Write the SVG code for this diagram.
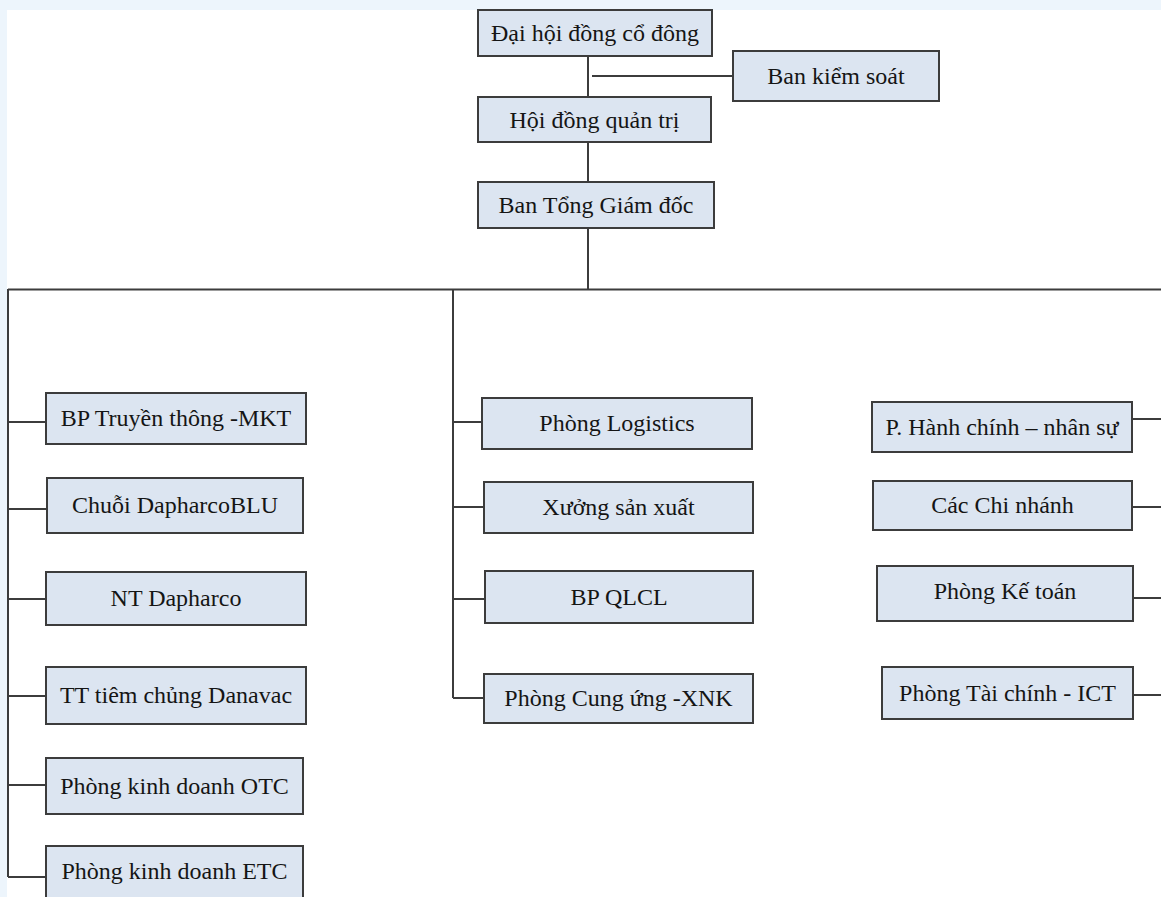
<svg xmlns="http://www.w3.org/2000/svg" width="1161" height="897" viewBox="0 0 1161 897">
<style>
.box{fill:#dce5f1;stroke:#3c3c3c;stroke-width:2}
.lbl{font-family:"Liberation Serif","Times New Roman",serif;font-size:24px;fill:#151515;text-anchor:middle}
.ln{stroke:#3c3c3c;stroke-width:2;fill:none}
</style>
<rect x="0" y="0" width="1161" height="897" fill="#ffffff"/>
<rect x="0" y="0" width="1161" height="10" fill="#edf5fc"/>
<rect x="0" y="0" width="7" height="897" fill="#edf5fc"/>
<g id="connectors">
<path class="ln" d="M588 56V289"/>
<path class="ln" d="M592 76H733"/>
<path class="ln" d="M8 289.5H1161"/>
<path class="ln" d="M8 289V877"/>
<path class="ln" d="M8 422H46M8 509H47M8 599H46M8 696H46M8 785H46M8 877H46"/>
<path class="ln" d="M453 289V698"/>
<path class="ln" d="M453 422H482M453 507H484M453 599H485M453 698H484"/>
<path class="ln" d="M1132 419H1161M1132 507H1161M1131 598H1161M1133 695H1161"/>
</g>
<g id="n-dhdcd"><rect class="box" x="478" y="10" width="234" height="46"/><text class="lbl" x="595" y="41">Đại hội đồng cổ đông</text></g>
<g id="n-bks"><rect class="box" x="733" y="51" width="206" height="50"/><text class="lbl" x="836" y="84">Ban kiểm soát</text></g>
<g id="n-hdqt"><rect class="box" x="478" y="97" width="233" height="45"/><text class="lbl" x="594.5" y="128">Hội đồng quản trị</text></g>
<g id="n-btgd"><rect class="box" x="478" y="182" width="236" height="46"/><text class="lbl" x="596" y="213">Ban Tổng Giám đốc</text></g>
<g id="n-mkt"><rect class="box" x="46" y="393" width="260" height="51"/><text class="lbl" x="176" y="426">BP Truyền thông -MKT</text></g>
<g id="n-blu"><rect class="box" x="47" y="478" width="256" height="55"/><text class="lbl" x="175" y="513">Chuỗi DapharcoBLU</text></g>
<g id="n-nt"><rect class="box" x="46" y="572" width="260" height="53"/><text class="lbl" x="176" y="606">NT Dapharco</text></g>
<g id="n-tt"><rect class="box" x="46" y="667" width="260" height="57"/><text class="lbl" x="176" y="703">TT tiêm chủng Danavac</text></g>
<g id="n-otc"><rect class="box" x="46" y="758" width="257" height="56"/><text class="lbl" x="174.5" y="794">Phòng kinh doanh OTC</text></g>
<g id="n-etc"><rect class="box" x="46" y="846" width="257" height="56"/><text class="lbl" x="174.5" y="879">Phòng kinh doanh ETC</text></g>
<g id="n-log"><rect class="box" x="482" y="398" width="270" height="51"/><text class="lbl" x="617" y="431">Phòng Logistics</text></g>
<g id="n-xsx"><rect class="box" x="484" y="482" width="269" height="51"/><text class="lbl" x="618.5" y="515">Xưởng sản xuất</text></g>
<g id="n-qlcl"><rect class="box" x="485" y="571" width="268" height="52"/><text class="lbl" x="619" y="605">BP QLCL</text></g>
<g id="n-xnk"><rect class="box" x="484" y="674" width="269" height="49"/><text class="lbl" x="618.5" y="706">Phòng Cung ứng -XNK</text></g>
<g id="n-hcns"><rect class="box" x="872" y="402" width="260" height="50"/><text class="lbl" x="1002" y="435">P. Hành chính – nhân sự</text></g>
<g id="n-cn"><rect class="box" x="873" y="481" width="259" height="49"/><text class="lbl" x="1002.5" y="513">Các Chi nhánh</text></g>
<g id="n-kt"><rect class="box" x="877" y="566" width="256" height="55"/><text class="lbl" x="1005" y="599">Phòng Kế toán</text></g>
<g id="n-tc"><rect class="box" x="882" y="667" width="251" height="52"/><text class="lbl" x="1007.5" y="701">Phòng Tài chính - ICT</text></g>
</svg>
